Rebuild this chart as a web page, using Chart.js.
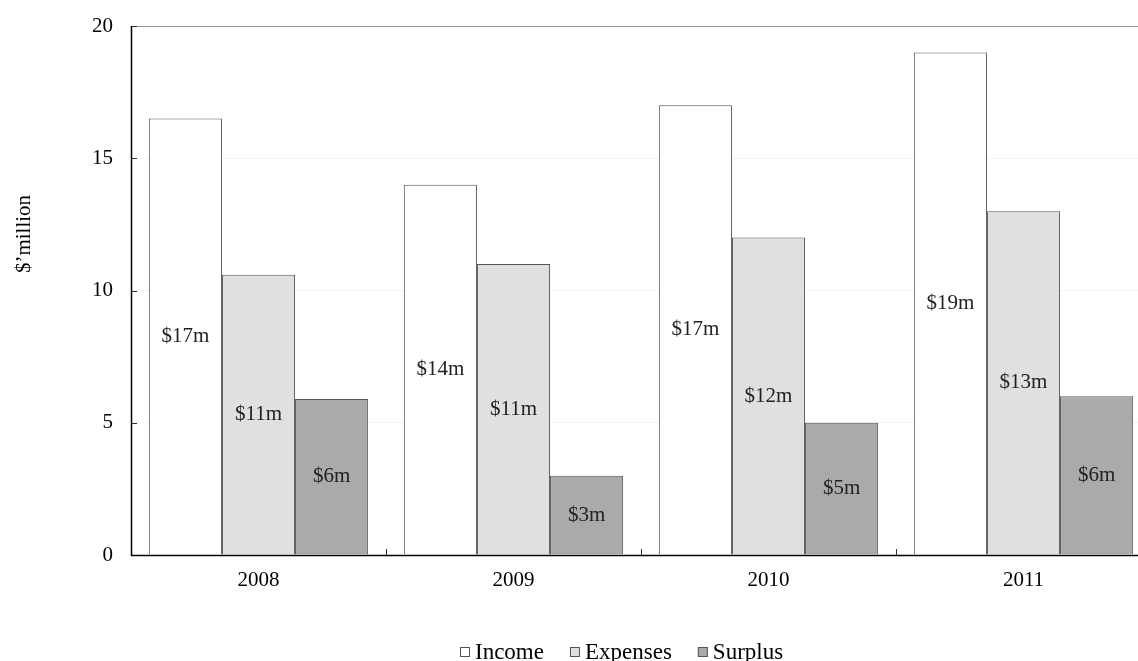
<!DOCTYPE html>
<html>
<head>
<meta charset="utf-8">
<script src="https://cdn.jsdelivr.net/npm/chart.js@4"></script>
<style>
  html, body { margin: 0; padding: 0; background: #ffffff; overflow: hidden; }
  #clip { width: 1138px; height: 661px; overflow: hidden; }
  #wrap { width: 1151px; height: 661px; position: relative; }
</style>
</head>
<body>
<div id="clip"><div id="wrap"><canvas id="chart"></canvas></div></div>
<script>
const years = ['2008', '2009', '2010', '2011'];
const income = [16.5, 14, 17, 19];
const expenses = [10.6, 11, 12, 13];
const surplus = [5.9, 3, 5, 6];
const incomeLabels = ['$17m', '$14m', '$17m', '$19m'];
const expensesLabels = ['$11m', '$11m', '$12m', '$13m'];
const surplusLabels = ['$6m', '$3m', '$5m', '$6m'];
const yTicks = [0, 5, 10, 15, 20];
const yTitle = '$\u2019million';

const FONT = "'Liberation Serif', 'Times New Roman', serif";

// etiquetas en el centro de cada barra
const barLabels = {
  id: 'barLabels',
  afterDatasetsDraw(chart) {
    const ctx = chart.ctx;
    ctx.save();
    ctx.font = '21px ' + FONT;
    ctx.fillStyle = '#222222';
    ctx.textAlign = 'center';
    ctx.textBaseline = 'middle';
    chart.data.datasets.forEach((ds, i) => {
      const meta = chart.getDatasetMeta(i);
      meta.data.forEach((bar, j) => {
        const mid = (bar.y + bar.base) / 2;
        ctx.fillText(ds.valueLabels[j], bar.x, mid);
      });
    });
    ctx.restore();
  }
};

// marco: linea superior gris, ejes negros, marcas hacia dentro, titulo del eje
const frame = {
  id: 'frame',
  afterDraw(chart) {
    const ctx = chart.ctx;
    const a = chart.chartArea;
    const x = chart.scales.x;
    const y = chart.scales.y;
    ctx.save();
    ctx.lineWidth = 1;
    ctx.strokeStyle = '#999999';
    ctx.beginPath();
    ctx.moveTo(a.left, a.top + 0.5);
    ctx.lineTo(a.right, a.top + 0.5);
    ctx.stroke();

    ctx.strokeStyle = '#333333';
    yTicks.forEach(v => {
      const py = Math.round(y.getPixelForValue(v)) + 0.5;
      ctx.beginPath();
      ctx.moveTo(a.left, py);
      ctx.lineTo(a.left + 6, py);
      ctx.stroke();
    });
    for (let i = 1; i < years.length; i++) {
      const px = Math.round((x.getPixelForValue(i - 1) + x.getPixelForValue(i)) / 2) + 0.5;
      ctx.beginPath();
      ctx.moveTo(px, a.bottom);
      ctx.lineTo(px, a.bottom - 6);
      ctx.stroke();
    }

    ctx.strokeStyle = '#000000';
    ctx.lineWidth = 1.5;
    ctx.beginPath();
    ctx.moveTo(a.left + 0.5, a.top);
    ctx.lineTo(a.left + 0.5, a.bottom + 0.5);
    ctx.lineTo(a.right, a.bottom + 0.5);
    ctx.stroke();

    // titulo eje Y (un poco por encima del centro, como en el original)
    ctx.fillStyle = '#000000';
    ctx.font = '21px ' + FONT;
    ctx.textAlign = 'center';
    ctx.textBaseline = 'middle';
    ctx.translate(24, 234);
    ctx.rotate(-Math.PI / 2);
    ctx.fillText(yTitle, 0, 0);
    ctx.restore();
  }
};

// leyenda propia: cuadrito pequeño pegado al texto
const miniLegend = {
  id: 'miniLegend',
  afterDraw(chart) {
    const ctx = chart.ctx;
    const box = 10, gap = 5, spacing = 26;
    const centerX = 622, baseline = 659;
    ctx.save();
    ctx.font = '23px ' + FONT;
    const items = chart.data.datasets.map(ds => ({
      ds, w: box + gap + ctx.measureText(ds.label).width
    }));
    const total = items.reduce((s, it) => s + it.w, 0) + spacing * (items.length - 1);
    let px = Math.round(centerX - total / 2);
    items.forEach(it => {
      ctx.fillStyle = it.ds.backgroundColor;
      ctx.strokeStyle = '#555555';
      ctx.lineWidth = 1;
      ctx.fillRect(px, baseline - 12, box, box);
      ctx.strokeRect(px + 0.5, baseline - 11.5, box - 1, box - 1);
      ctx.fillStyle = '#000000';
      ctx.textAlign = 'left';
      ctx.textBaseline = 'alphabetic';
      ctx.fillText(it.ds.label, px + box + gap, baseline);
      px += it.w + spacing;
    });
    ctx.restore();
  }
};

const ctx = document.getElementById('chart');

new Chart(ctx, {
  type: 'bar',
  data: {
    labels: years,
    datasets: [
      {
        label: 'Income',
        data: income,
        valueLabels: incomeLabels,
        backgroundColor: '#ffffff',
        borderColor: '#555555',
        borderWidth: 1
      },
      {
        label: 'Expenses',
        data: expenses,
        valueLabels: expensesLabels,
        backgroundColor: '#e0e0e0',
        borderColor: '#555555',
        borderWidth: 1
      },
      {
        label: 'Surplus',
        data: surplus,
        valueLabels: surplusLabels,
        backgroundColor: '#aaaaaa',
        borderColor: '#555555',
        borderWidth: 1
      }
    ]
  },
  options: {
    responsive: true,
    maintainAspectRatio: false,
    animation: false,
    layout: { padding: { top: 26, right: 0, left: 0, bottom: 0 } },
    datasets: {
      bar: { categoryPercentage: 0.86, barPercentage: 1.0 }
    },
    plugins: {
      legend: { display: false },
      tooltip: { enabled: false }
    },
    scales: {
      x: {
        grid: { display: true, drawOnChartArea: false, drawTicks: false },
        border: { display: false },
        ticks: {
          font: { family: FONT, size: 21 },
          color: '#000000',
          padding: 13
        },
        afterFit(scale) { scale.height = 106; }
      },
      y: {
        min: 0,
        max: 20,
        grid: { color: '#f2f2f2', drawTicks: false },
        border: { display: false },
        ticks: {
          stepSize: 5,
          font: { family: FONT, size: 21 },
          color: '#000000',
          padding: 18
        },
        afterFit(scale) {
          scale.width = 131;
          scale.paddingTop = 0;
          scale.paddingBottom = 0;
        }
      }
    }
  },
  plugins: [barLabels, frame, miniLegend]
});
</script>
</body>
</html>
